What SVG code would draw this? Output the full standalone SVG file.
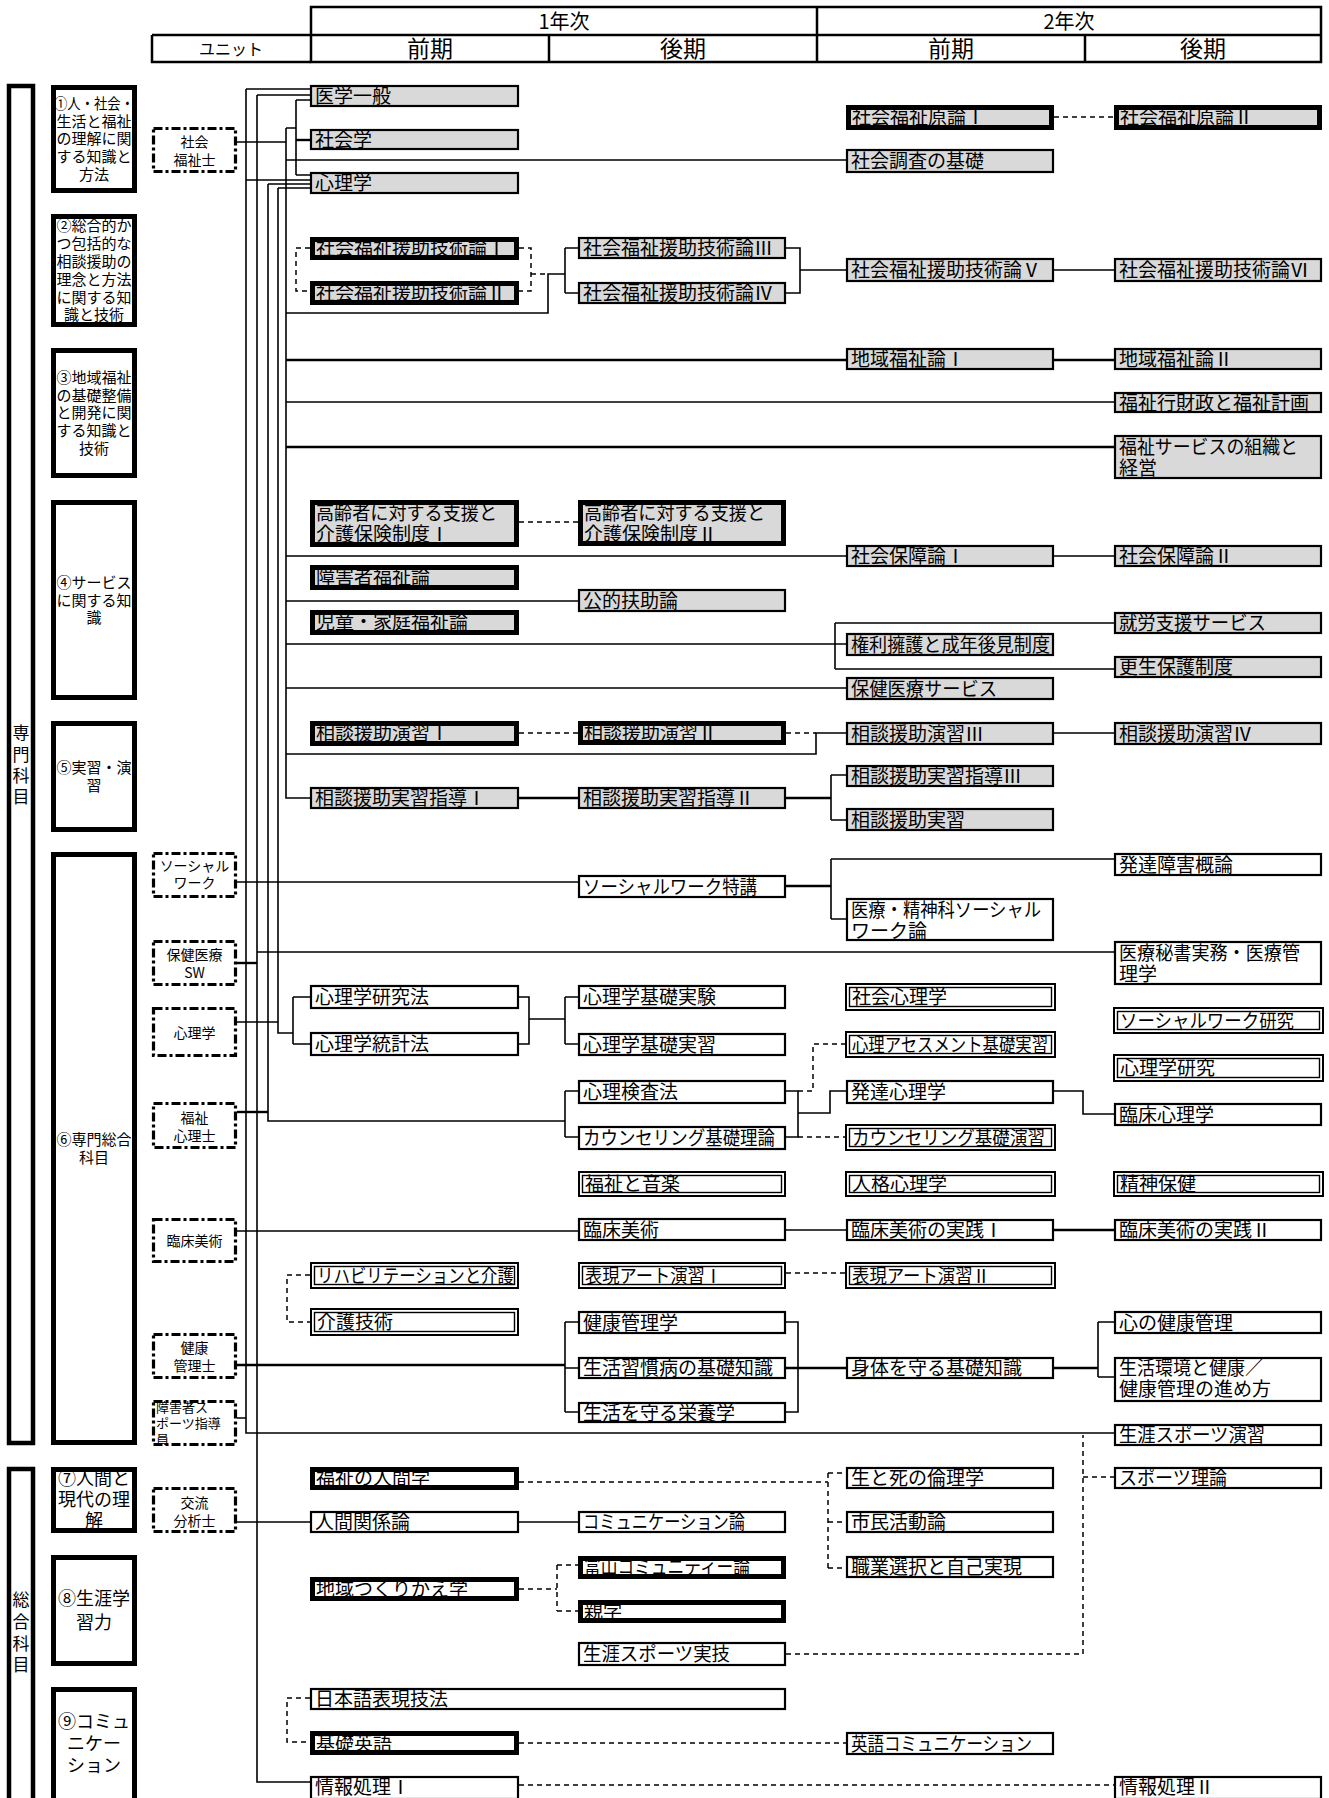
<svg xmlns="http://www.w3.org/2000/svg" width="1329" height="1798" viewBox="0 0 1329 1798">
<style>
text{font-family:'Noto Sans CJK JP','Noto Sans CJK SC',sans-serif;fill:#000}
.t{font-size:19px}
.hd{font-size:23px;text-anchor:middle}
.hy{font-size:20px;text-anchor:middle}
.ct{font-size:15px;text-anchor:middle}
.cb{font-size:18px;text-anchor:middle}
.ut{font-size:14px;text-anchor:middle}
.vt{font-size:17px;text-anchor:middle}
.g{fill:#d9d9d9;stroke:#000;stroke-width:2.2}
.gt{fill:#d9d9d9;stroke:#000;stroke-width:5}
.w{fill:#fff;stroke:#000;stroke-width:2.2}
.wt{fill:#fff;stroke:#000;stroke-width:5}
.d1{fill:#fff;stroke:#000;stroke-width:2}
.d2{fill:none;stroke:#000;stroke-width:1.4}
.cat{fill:#fff;stroke:#000;stroke-width:5}
.unit{fill:#fff;stroke:#000;stroke-width:3.2;stroke-dasharray:9 3 3 3}
.hl{fill:none;stroke:#000;stroke-width:2.5}
.c{fill:none;stroke:#000;stroke-width:1.6}
.k{fill:none;stroke:#000;stroke-width:2.4}
.ds{fill:none;stroke:#000;stroke-width:1.5;stroke-dasharray:5 4}
</style>
<rect width="1329" height="1798" fill="#fff"/>

<g id="header">
<rect class="hl" x="311" y="7" width="1010" height="55"/>
<path class="hl" d="M311,35H1321M152,35H311M152,35V62H311M549,35V62M817,7V62M1085,35V62"/>
<text class="hy" x="564" y="29">1年次</text>
<text class="hy" x="1069" y="29">2年次</text>
<text style="font-size:16px;text-anchor:middle" x="231" y="55">ユニット</text>
<text class="hd" x="430" y="57">前期</text>
<text class="hd" x="683" y="57">後期</text>
<text class="hd" x="951" y="57">前期</text>
<text class="hd" x="1203" y="57">後期</text>
</g>

<g id="senmon">
<rect x="9" y="86" width="24" height="1357" fill="#fff" stroke="#000" stroke-width="4.5"/>
<text class="vt" x="21" y="739">専</text><text class="vt" x="21" y="761">門</text><text class="vt" x="21" y="782">科</text><text class="vt" x="21" y="803">目</text>
</g>
<g id="sogo">
<rect x="9" y="1469" width="24" height="340" fill="#fff" stroke="#000" stroke-width="4.5"/>
<text class="vt" x="21" y="1606">総</text><text class="vt" x="21" y="1628">合</text><text class="vt" x="21" y="1650">科</text><text class="vt" x="21" y="1671">目</text>
</g>

<g id="cat1"><rect class="cat" x="53.5" y="87.5" width="81" height="103"/>
<text class="ct" x="94" y="109" textLength="80" lengthAdjust="spacingAndGlyphs">①人・社会・</text><text class="ct" x="94" y="127">生活と福祉</text><text class="ct" x="94" y="144">の理解に関</text><text class="ct" x="94" y="162">する知識と</text><text class="ct" x="94" y="180">方法</text></g>
<g id="cat2"><rect class="cat" x="53.5" y="216.5" width="81" height="108"/>
<text class="ct" x="94" y="231">②総合的か</text><text class="ct" x="94" y="249">つ包括的な</text><text class="ct" x="94" y="267">相談援助の</text><text class="ct" x="94" y="285">理念と方法</text><text class="ct" x="94" y="303">に関する知</text><text class="ct" x="94" y="320">識と技術</text></g>
<g id="cat3"><rect class="cat" x="53.5" y="350.5" width="81" height="125"/>
<text class="ct" x="94" y="383">③地域福祉</text><text class="ct" x="94" y="401">の基礎整備</text><text class="ct" x="94" y="418">と開発に関</text><text class="ct" x="94" y="436">する知識と</text><text class="ct" x="94" y="454">技術</text></g>
<g id="cat4"><rect class="cat" x="53.5" y="502.5" width="81" height="195"/>
<text class="ct" x="94" y="588">④サービス</text><text class="ct" x="94" y="606">に関する知</text><text class="ct" x="94" y="623">識</text></g>
<g id="cat5"><rect class="cat" x="53.5" y="723.5" width="81" height="106"/>
<text class="ct" x="94" y="773">⑤実習・演</text><text class="ct" x="94" y="791">習</text></g>
<g id="cat6"><rect class="cat" x="53.5" y="854.5" width="81" height="588"/>
<text class="ct" x="94" y="1145">⑥専門総合</text><text class="ct" x="94" y="1163">科目</text></g>
<g id="cat7"><rect class="cat" x="53.5" y="1469.5" width="81" height="61"/>
<text class="cb" x="94" y="1485">⑦人間と</text><text class="cb" x="94" y="1506">現代の理</text><text class="cb" x="94" y="1527">解</text></g>
<g id="cat8"><rect class="cat" x="53.5" y="1557.5" width="81" height="106"/>
<text class="cb" x="94" y="1605">⑧生涯学</text><text class="cb" x="94" y="1629">習力</text></g>
<g id="cat9"><rect class="cat" x="53.5" y="1689.5" width="81" height="120"/>
<text class="cb" x="94" y="1728">⑨コミュ</text><text class="cb" x="94" y="1750">ニケー</text><text class="cb" x="94" y="1772">ション</text></g>

<g id="u-shakaifukushishi"><rect class="unit" x="153.5" y="128.5" width="82" height="43"/><text class="ut" x="194.5" y="147">社会</text><text class="ut" x="194.5" y="165">福祉士</text></g>
<g id="u-socialwork"><rect class="unit" x="153.5" y="853.5" width="82" height="43"/><text class="ut" x="194.5" y="871">ソーシャル</text><text class="ut" x="194.5" y="888">ワーク</text></g>
<g id="u-hokeniryo"><rect class="unit" x="153.5" y="941.5" width="82" height="43"/><text class="ut" x="194.5" y="960">保健医療</text><text class="ut" x="194.5" y="978">SW</text></g>
<g id="u-shinri"><rect class="unit" x="153.5" y="1008.5" width="82" height="47"/><text class="ut" x="194.5" y="1038">心理学</text></g>
<g id="u-fukushishinri"><rect class="unit" x="153.5" y="1103.5" width="82" height="44"/><text class="ut" x="194.5" y="1123">福祉</text><text class="ut" x="194.5" y="1141">心理士</text></g>
<g id="u-rinshobijutsu"><rect class="unit" x="153.5" y="1219.5" width="82" height="42"/><text class="ut" x="194.5" y="1246">臨床美術</text></g>
<g id="u-kenko"><rect class="unit" x="153.5" y="1334.5" width="82" height="43"/><text class="ut" x="194.5" y="1353">健康</text><text class="ut" x="194.5" y="1371">管理士</text></g>
<g id="u-sports"><rect class="unit" x="153.5" y="1401.5" width="82" height="43"/><text style="font-size:13px" x="156" y="1412">障害者ス</text><text style="font-size:13px" x="156" y="1428">ポーツ指導</text><text style="font-size:13px" x="156" y="1444">員</text></g>
<g id="u-koryu"><rect class="unit" x="153.5" y="1488.5" width="82" height="43"/><text class="ut" x="194.5" y="1508">交流</text><text class="ut" x="194.5" y="1526">分析士</text></g>

<g id="connectors">
<path class="c" d="M237,142H286M286,128V798H310M286,128H296M296,100V175M296,100H310M296,175H310"/>
<path class="k" d="M296,140H310"/>
<path class="c" d="M286,160H846M286,313H548V274H565M565,248V293M565,248H578M565,293H578M286,402H1114M286,556H846M286,601H578M286,644H846M835,623V669M835,623H1114M835,669H1114M286,688H846M286,754H816V733H846"/>
<path class="k" d="M286,360H846M286,447H1114"/>
<path class="c" d="M246,89V1433H1114M246,89H310M246,180H310M237,1418H246"/>
<path class="c" d="M257,95V1782H310M257,95H310M257,952H1114"/>
<path class="k" d="M237,963H257"/>
<path class="c" d="M268,184H310M268,184V1121H565M565,1091V1137M565,1091H578M565,1137H578"/>
<path class="k" d="M237,1112H268"/>
<path class="c" d="M278,188H310M278,188V1033H293M237,1022H278M293,997V1044M293,997H310M293,1044H310"/>
<path class="c" d="M237,882H578M237,1231H578M237,1522H310M519,1522H578"/>
<path class="k" d="M237,1365H565"/>
<path class="c" d="M786,248H800V293H786M800,270H846M1054,270H1114"/>
<path class="k" d="M1054,360H1114"/>
<path class="c" d="M1054,556H1114M1054,733H1114"/>
<path class="k" d="M519,798H578M786,798H831"/>
<path class="c" d="M831,775V820M831,775H846M831,820H846"/>
<path class="k" d="M786,886H831"/>
<path class="c" d="M831,859V919M831,859H1114M831,919H846"/>
<path class="c" d="M519,997H529V1044H519M529,1019H565M565,997V1044M565,997H578M565,1044H578"/>
<path class="c" d="M786,1091H798V1137H786M798,1113H830V1091H846M1054,1091H1083V1114H1114"/>
<path class="c" d="M786,1230H846"/>
<path class="k" d="M1054,1230H1114"/>
<path class="c" d="M565,1322V1412M565,1322H578M565,1368H578M565,1412H578M786,1322H798V1412H786M1098,1322V1377M1098,1322H1114M1098,1377H1114"/>
<path class="k" d="M786,1368H846M1054,1368H1098"/>
<path class="ds" d="M1054,117H1114"/>
<path class="ds" d="M310,248H296V291H310M519,248H531V291H519M531,274H548"/>
<path class="ds" d="M519,522H578M519,733H578M786,733H816"/>
<path class="ds" d="M798,1091H813V1044H846M798,1137H846M786,1273H846"/>
<path class="ds" d="M310,1275H287V1322H310"/>
<path class="ds" d="M786,1654H1083V1435M1083,1477H1114"/>
<path class="ds" d="M519,1482H828M828,1473V1568M828,1473H846M828,1522H846M828,1568H846"/>
<path class="ds" d="M519,1589H557M557,1565V1611M557,1565H578M557,1611H578"/>
<path class="ds" d="M310,1698H287V1742H310M519,1743H846M519,1785H1114"/>
</g>

<g id="col1">
<g id="igaku"><rect class="g" x="311" y="86" width="207" height="20"/><text class="t" x="315" y="103">医学一般</text></g>
<g id="shakaigaku"><rect class="g" x="311" y="130" width="207" height="19"/><text class="t" x="315" y="146.5">社会学</text></g>
<g id="shinrigaku"><rect class="g" x="311" y="173" width="207" height="20"/><text class="t" x="315" y="190">心理学</text></g>
<g id="engo1"><rect class="gt" x="312.5" y="239.5" width="204" height="18"/><text class="t" x="316" y="255">社会福祉援助技術論Ⅰ</text></g>
<g id="engo2"><rect class="gt" x="312.5" y="283.5" width="204" height="19"/><text class="t" x="316" y="299.5">社会福祉援助技術論Ⅱ</text></g>
<g id="korei1"><rect class="gt" x="312.5" y="502.5" width="204" height="42"/><text class="t" x="316" y="520" textLength="181" lengthAdjust="spacingAndGlyphs">高齢者に対する支援と</text><text class="t" x="316" y="541">介護保険制度Ⅰ</text></g>
<g id="shogaisha"><rect class="gt" x="312.5" y="567.5" width="204" height="20"/><text class="t" x="316" y="584">障害者福祉論</text></g>
<g id="jido"><rect class="gt" x="312.5" y="612.5" width="204" height="20"/><text class="t" x="316" y="629">児童・家庭福祉論</text></g>
<g id="ensyu1"><rect class="gt" x="312.5" y="723.5" width="204" height="20"/><text class="t" x="316" y="740">相談援助演習Ⅰ</text></g>
<g id="jisshu1"><rect class="g" x="311" y="788" width="207" height="20"/><text class="t" x="315" y="805">相談援助実習指導Ⅰ</text></g>
<g id="kenkyuho"><rect class="w" x="311" y="986" width="207" height="22"/><text class="t" x="315" y="1004">心理学研究法</text></g>
<g id="tokeiho"><rect class="w" x="311" y="1033" width="207" height="22"/><text class="t" x="315" y="1051">心理学統計法</text></g>
<g id="rehab"><rect class="d1" x="311" y="1263" width="207" height="25"/><rect class="d2" x="314.5" y="1266.5" width="200" height="18"/><text class="t" x="317" y="1282.5" textLength="197" lengthAdjust="spacingAndGlyphs">リハビリテーションと介護</text></g>
<g id="kaigo"><rect class="d1" x="311" y="1309" width="207" height="26"/><rect class="d2" x="314.5" y="1312.5" width="200" height="19"/><text class="t" x="317" y="1329">介護技術</text></g>
<g id="ningengaku"><rect class="wt" x="312.5" y="1469.5" width="204" height="18"/><text class="t" x="316" y="1485">福祉の人間学</text></g>
<g id="ningenkankei"><rect class="w" x="311" y="1512" width="207" height="20"/><text class="t" x="315" y="1529">人間関係論</text></g>
<g id="chiiki"><rect class="wt" x="312.5" y="1579.5" width="204" height="19"/><text class="t" x="316" y="1595.5">地域つくりかえ学</text></g>
<g id="nihongo"><rect class="w" x="311" y="1689" width="474" height="20"/><text class="t" x="315" y="1706">日本語表現技法</text></g>
<g id="eigo"><rect class="wt" x="312.5" y="1733.5" width="204" height="19"/><text class="t" x="316" y="1749.5">基礎英語</text></g>
<g id="joho1"><rect class="w" x="311" y="1777" width="207" height="22"/><text class="t" x="315" y="1794">情報処理Ⅰ</text></g>
</g>

<g id="col2">
<g id="engo3"><rect class="g" x="579" y="238" width="206" height="20"/><text class="t" x="583" y="255">社会福祉援助技術論Ⅲ</text></g>
<g id="engo4"><rect class="g" x="579" y="283" width="206" height="20"/><text class="t" x="583" y="300">社会福祉援助技術論Ⅳ</text></g>
<g id="korei2"><rect class="gt" x="580.5" y="502.5" width="203" height="41"/><text class="t" x="584" y="520" textLength="181" lengthAdjust="spacingAndGlyphs">高齢者に対する支援と</text><text class="t" x="584" y="541">介護保険制度Ⅱ</text></g>
<g id="kotekifujo"><rect class="g" x="579" y="590" width="206" height="21"/><text class="t" x="583" y="607.5">公的扶助論</text></g>
<g id="ensyu2"><rect class="gt" x="580.5" y="723.5" width="203" height="19"/><text class="t" x="584" y="739.5">相談援助演習Ⅱ</text></g>
<g id="jisshu2"><rect class="g" x="579" y="788" width="206" height="20"/><text class="t" x="583" y="805">相談援助実習指導Ⅱ</text></g>
<g id="swtokko"><rect class="w" x="579" y="876" width="206" height="21"/><text class="t" x="583" y="893.5" textLength="174" lengthAdjust="spacingAndGlyphs">ソーシャルワーク特講</text></g>
<g id="jikken"><rect class="w" x="579" y="986" width="206" height="22"/><text class="t" x="583" y="1004">心理学基礎実験</text></g>
<g id="kisojisshu"><rect class="w" x="579" y="1034" width="206" height="21"/><text class="t" x="583" y="1051.5">心理学基礎実習</text></g>
<g id="kensaho"><rect class="w" x="579" y="1081" width="206" height="22"/><text class="t" x="583" y="1099">心理検査法</text></g>
<g id="counseling"><rect class="w" x="579" y="1127" width="206" height="22"/><text class="t" x="583" y="1145" textLength="192" lengthAdjust="spacingAndGlyphs">カウンセリング基礎理論</text></g>
<g id="ongaku"><rect class="d1" x="579" y="1172" width="206" height="24"/><rect class="d2" x="582.5" y="1175.5" width="199" height="17"/><text class="t" x="585" y="1191">福祉と音楽</text></g>
<g id="bijutsu"><rect class="w" x="579" y="1219" width="206" height="21"/><text class="t" x="583" y="1236.5">臨床美術</text></g>
<g id="art1"><rect class="d1" x="579" y="1263" width="206" height="25"/><rect class="d2" x="582.5" y="1266.5" width="199" height="18"/><text class="t" x="585" y="1282.5" textLength="137" lengthAdjust="spacingAndGlyphs">表現アート演習Ⅰ</text></g>
<g id="kenkokanri"><rect class="w" x="579" y="1312" width="206" height="21"/><text class="t" x="583" y="1329.5">健康管理学</text></g>
<g id="shukanbyo"><rect class="w" x="579" y="1358" width="206" height="20"/><text class="t" x="583" y="1375">生活習慣病の基礎知識</text></g>
<g id="eiyo"><rect class="w" x="579" y="1403" width="206" height="19"/><text class="t" x="583" y="1419.5">生活を守る栄養学</text></g>
<g id="comm"><rect class="w" x="579" y="1512" width="206" height="20"/><text class="t" x="583" y="1529" textLength="162" lengthAdjust="spacingAndGlyphs">コミュニケーション論</text></g>
<g id="toyama"><rect class="wt" x="580.5" y="1558.5" width="203" height="18"/><text class="t" x="584" y="1574" textLength="166" lengthAdjust="spacingAndGlyphs">富山コミュニティー論</text></g>
<g id="oyagaku"><rect class="wt" x="580.5" y="1602.5" width="203" height="18"/><text class="t" x="584" y="1618">親学</text></g>
<g id="sportsjitsugi"><rect class="w" x="579" y="1643" width="206" height="22"/><text class="t" x="583" y="1661" textLength="147" lengthAdjust="spacingAndGlyphs">生涯スポーツ実技</text></g>
</g>

<g id="col3">
<g id="genron1"><rect class="gt" x="848.5" y="107.5" width="203" height="20"/><text class="t" x="852" y="124">社会福祉原論Ⅰ</text></g>
<g id="chosa"><rect class="g" x="847" y="150" width="206" height="22"/><text class="t" x="851" y="168">社会調査の基礎</text></g>
<g id="engo5"><rect class="g" x="847" y="259" width="206" height="22"/><text class="t" x="851" y="277">社会福祉援助技術論Ⅴ</text></g>
<g id="chiikifukushi1"><rect class="g" x="847" y="349" width="206" height="20"/><text class="t" x="851" y="366">地域福祉論Ⅰ</text></g>
<g id="hosho1"><rect class="g" x="847" y="546" width="206" height="20"/><text class="t" x="851" y="563">社会保障論Ⅰ</text></g>
<g id="kenri"><rect class="g" x="847" y="634" width="206" height="21"/><text class="t" x="851" y="651.5" textLength="199" lengthAdjust="spacingAndGlyphs">権利擁護と成年後見制度</text></g>
<g id="hokeniryo"><rect class="g" x="847" y="678" width="206" height="21"/><text class="t" x="851" y="695.5" textLength="146" lengthAdjust="spacingAndGlyphs">保健医療サービス</text></g>
<g id="ensyu3"><rect class="g" x="847" y="723" width="206" height="21"/><text class="t" x="851" y="740.5">相談援助演習Ⅲ</text></g>
<g id="jisshu3"><rect class="g" x="847" y="766" width="206" height="20"/><text class="t" x="851" y="783">相談援助実習指導Ⅲ</text></g>
<g id="jisshu"><rect class="g" x="847" y="809" width="206" height="21"/><text class="t" x="851" y="826.5">相談援助実習</text></g>
<g id="iryosw"><rect class="w" x="847" y="899" width="206" height="41"/><text class="t" x="851" y="917" textLength="190" lengthAdjust="spacingAndGlyphs">医療・精神科ソーシャル</text><text class="t" x="851" y="938">ワーク論</text></g>
<g id="shakaishinri"><rect class="d1" x="846" y="984" width="209" height="26"/><rect class="d2" x="849.5" y="987.5" width="202" height="19"/><text class="t" x="852" y="1004">社会心理学</text></g>
<g id="assessment"><rect class="d1" x="846" y="1032" width="209" height="25"/><rect class="d2" x="849.5" y="1035.5" width="202" height="18"/><text class="t" x="852" y="1051.5" textLength="196" lengthAdjust="spacingAndGlyphs">心理アセスメント基礎実習</text></g>
<g id="hattatsu"><rect class="w" x="847" y="1081" width="206" height="22"/><text class="t" x="851" y="1099">発達心理学</text></g>
<g id="counsel2"><rect class="d1" x="846" y="1125" width="209" height="25"/><rect class="d2" x="849.5" y="1128.5" width="202" height="18"/><text class="t" x="852" y="1144.5" textLength="193" lengthAdjust="spacingAndGlyphs">カウンセリング基礎演習</text></g>
<g id="jinkaku"><rect class="d1" x="846" y="1172" width="209" height="24"/><rect class="d2" x="849.5" y="1175.5" width="202" height="17"/><text class="t" x="852" y="1191">人格心理学</text></g>
<g id="bijutsu1"><rect class="w" x="847" y="1220" width="206" height="20"/><text class="t" x="851" y="1237">臨床美術の実践Ⅰ</text></g>
<g id="art2"><rect class="d1" x="846" y="1263" width="209" height="25"/><rect class="d2" x="849.5" y="1266.5" width="202" height="18"/><text class="t" x="852" y="1282.5" textLength="138" lengthAdjust="spacingAndGlyphs">表現アート演習Ⅱ</text></g>
<g id="shintai"><rect class="w" x="847" y="1358" width="206" height="20"/><text class="t" x="851" y="1375">身体を守る基礎知識</text></g>
<g id="seishi"><rect class="w" x="847" y="1468" width="206" height="20"/><text class="t" x="851" y="1485">生と死の倫理学</text></g>
<g id="shimin"><rect class="w" x="847" y="1512" width="206" height="20"/><text class="t" x="851" y="1529">市民活動論</text></g>
<g id="shokugyo"><rect class="w" x="847" y="1557" width="206" height="20"/><text class="t" x="851" y="1574">職業選択と自己実現</text></g>
<g id="eigocomm"><rect class="w" x="847" y="1733" width="206" height="21"/><text class="t" x="851" y="1750.5" textLength="181" lengthAdjust="spacingAndGlyphs">英語コミュニケーション</text></g>
</g>

<g id="col4">
<g id="genron2"><rect class="gt" x="1116.5" y="107.5" width="203" height="20"/><text class="t" x="1120" y="124">社会福祉原論Ⅱ</text></g>
<g id="engo6"><rect class="g" x="1115" y="259" width="206" height="22"/><text class="t" x="1119" y="277">社会福祉援助技術論Ⅵ</text></g>
<g id="chiikifukushi2"><rect class="g" x="1115" y="349" width="206" height="20"/><text class="t" x="1119" y="366">地域福祉論Ⅱ</text></g>
<g id="gyozaisei"><rect class="g" x="1115" y="393" width="206" height="19"/><text class="t" x="1119" y="409.5">福祉行財政と福祉計画</text></g>
<g id="soshiki"><rect class="g" x="1115" y="436" width="206" height="42"/><text class="t" x="1119" y="454" textLength="179" lengthAdjust="spacingAndGlyphs">福祉サービスの組織と</text><text class="t" x="1119" y="475">経営</text></g>
<g id="hosho2"><rect class="g" x="1115" y="546" width="206" height="20"/><text class="t" x="1119" y="563">社会保障論Ⅱ</text></g>
<g id="shuro"><rect class="g" x="1115" y="613" width="206" height="20"/><text class="t" x="1119" y="630" textLength="147" lengthAdjust="spacingAndGlyphs">就労支援サービス</text></g>
<g id="kosei"><rect class="g" x="1115" y="657" width="206" height="20"/><text class="t" x="1119" y="674">更生保護制度</text></g>
<g id="ensyu4"><rect class="g" x="1115" y="723" width="206" height="21"/><text class="t" x="1119" y="740.5">相談援助演習Ⅳ</text></g>
<g id="hattatsushogai"><rect class="w" x="1115" y="854" width="206" height="21"/><text class="t" x="1119" y="871.5">発達障害概論</text></g>
<g id="iryohisho"><rect class="w" x="1115" y="942" width="206" height="42"/><text class="t" x="1119" y="960" textLength="181" lengthAdjust="spacingAndGlyphs">医療秘書実務・医療管</text><text class="t" x="1119" y="981">理学</text></g>
<g id="swkenkyu"><rect class="d1" x="1114" y="1008" width="209" height="25"/><rect class="d2" x="1117.5" y="1011.5" width="202" height="18"/><text class="t" x="1120" y="1027.5" textLength="174" lengthAdjust="spacingAndGlyphs">ソーシャルワーク研究</text></g>
<g id="shinrikenkyu"><rect class="d1" x="1114" y="1055" width="209" height="26"/><rect class="d2" x="1117.5" y="1058.5" width="202" height="19"/><text class="t" x="1120" y="1075">心理学研究</text></g>
<g id="rinshoshinri"><rect class="w" x="1115" y="1104" width="206" height="21"/><text class="t" x="1119" y="1121.5">臨床心理学</text></g>
<g id="seishinhoken"><rect class="d1" x="1114" y="1172" width="209" height="24"/><rect class="d2" x="1117.5" y="1175.5" width="202" height="17"/><text class="t" x="1120" y="1191">精神保健</text></g>
<g id="bijutsu2"><rect class="w" x="1115" y="1220" width="206" height="20"/><text class="t" x="1119" y="1237">臨床美術の実践Ⅱ</text></g>
<g id="kokoro"><rect class="w" x="1115" y="1312" width="206" height="21"/><text class="t" x="1119" y="1329.5">心の健康管理</text></g>
<g id="seikatsukankyo"><rect class="w" x="1115" y="1358" width="206" height="43"/><text class="t" x="1119" y="1375" textLength="144" lengthAdjust="spacingAndGlyphs">生活環境と健康／</text><text class="t" x="1119" y="1396">健康管理の進め方</text></g>
<g id="sportsenshu"><rect class="w" x="1115" y="1425" width="206" height="20"/><text class="t" x="1119" y="1442" textLength="146" lengthAdjust="spacingAndGlyphs">生涯スポーツ演習</text></g>
<g id="sportsriron"><rect class="w" x="1115" y="1468" width="206" height="20"/><text class="t" x="1119" y="1485" textLength="108" lengthAdjust="spacingAndGlyphs">スポーツ理論</text></g>
<g id="joho2"><rect class="w" x="1115" y="1777" width="206" height="22"/><text class="t" x="1119" y="1794">情報処理Ⅱ</text></g>
</g>
</svg>
